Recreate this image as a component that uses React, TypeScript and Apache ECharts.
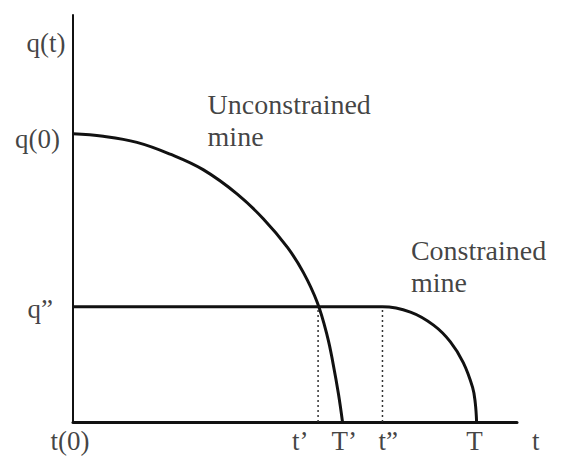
import React, { useEffect, useRef } from "react";
import * as echarts from "echarts";

// Levels (data units)
const qDoublePrime = 28.3;
const tPrime = 55.2;
const tDoublePrime = 69.7;

// Unconstrained mine path [t, q]
const unconstrainedT = [0, 6.8, 14.4, 21.9, 29.3, 37.0, 42.8, 48.3, 51.9, 55.0, 57.3, 58.6, 59.8, 60.7];
const unconstrainedQ = [70.8, 70.2, 68.7, 65.8, 62.0, 56.0, 50.0, 42.9, 36.7, 29.4, 21.0, 14.2, 6.8, 0];

// Constrained mine path [t, q]
const constrainedT = [0, 69.7, 76.0, 81.2, 85.0, 87.9, 90.0, 90.6, 90.9];
const constrainedQ = [28.3, 28.3, 27.0, 23.8, 19.7, 14.6, 8.5, 4.7, 0];

// Axis labels (text and position of centre in data units)
const labelTexts = ["q(t)", "q(0)", "q\u201D", "t(0)", "t\u2019", "T\u2019", "t\u201D", "T", "t"];
const labelX = [-6.1, -8.0, -7.4, -0.7, 51.2, 61.1, 71.0, 90.4, 104.2];
const labelY = [93.1, 69.5, 27.8, -4.7, -4.7, -4.7, -4.7, -4.7, -4.7];

// Curve annotations (left edge, vertical middle)
const noteTexts = ["Unconstrained\nmine", "Constrained\nmine"];
const noteX = [30.2, 76.0];
const noteY = [74.2, 38.3];

const FONT = "'Liberation Serif', 'Times New Roman', serif";
const INK = "#111";

export default function App() {
  const ref = useRef<HTMLDivElement>(null);
  useEffect(() => {
    if (!ref.current) return;
    const chart = echarts.init(ref.current, null, { renderer: "svg" });
    const zip = (xs: number[], ys: number[]) => xs.map((x, i) => [x, ys[i]]);
    chart.setOption({
      animation: false,
      backgroundColor: "#fff",
      grid: { left: 73, right: 46, top: 15, bottom: 35 },
      xAxis: {
        type: "value",
        min: 0,
        max: 100,
        axisLine: { show: true, onZero: false, lineStyle: { color: INK, width: 3 } },
        axisTick: { show: false },
        axisLabel: { show: false },
        splitLine: { show: false },
      },
      yAxis: {
        type: "value",
        min: 0,
        max: 100,
        axisLine: { show: true, onZero: false, lineStyle: { color: INK, width: 2 } },
        axisTick: { show: false },
        axisLabel: { show: false },
        splitLine: { show: false },
      },
      series: [
        {
          type: "line",
          name: "Unconstrained",
          data: zip(unconstrainedT, unconstrainedQ),
          smooth: 0.4,
          symbol: "none",
          lineStyle: { color: INK, width: 3 },
        },
        {
          type: "line",
          name: "Constrained",
          data: zip(constrainedT, constrainedQ),
          smooth: 0.4,
          symbol: "none",
          lineStyle: { color: INK, width: 3 },
        },
        {
          type: "line",
          name: "tPrime",
          data: [[tPrime, 0], [tPrime, qDoublePrime]],
          symbol: "none",
          lineStyle: { color: "#333", width: 1.5, type: [2, 3] },
        },
        {
          type: "line",
          name: "tDoublePrime",
          data: [[tDoublePrime, 0], [tDoublePrime, qDoublePrime]],
          symbol: "none",
          lineStyle: { color: "#333", width: 1.5, type: [2, 3] },
        },
        {
          type: "scatter",
          name: "labels",
          clip: false,
          symbolSize: 1,
          itemStyle: { color: "rgba(0,0,0,0)" },
          data: labelTexts.map((t, i) => ({ name: t, value: [labelX[i], labelY[i]] })),
          label: {
            show: true,
            position: "inside",
            formatter: (p: any) => p.name,
            fontFamily: FONT,
            fontSize: 27,
            lineHeight: 24,
            color: INK,
          },
        },
        {
          type: "scatter",
          name: "notes",
          clip: false,
          symbolSize: 1,
          itemStyle: { color: "rgba(0,0,0,0)" },
          data: noteTexts.map((t, i) => ({ name: t, value: [noteX[i], noteY[i]] })),
          label: {
            show: true,
            position: "right",
            distance: 0,
            align: "left",
            formatter: (p: any) => p.name,
            fontFamily: FONT,
            fontSize: 28,
            lineHeight: 32,
            color: INK,
          },
        },
      ],
    });
    return () => chart.dispose();
  }, []);
  return (
    <div
      ref={ref}
      style={{ position: "absolute", left: 0, top: 0, width: 563, height: 457 }}
    />
  );
}
